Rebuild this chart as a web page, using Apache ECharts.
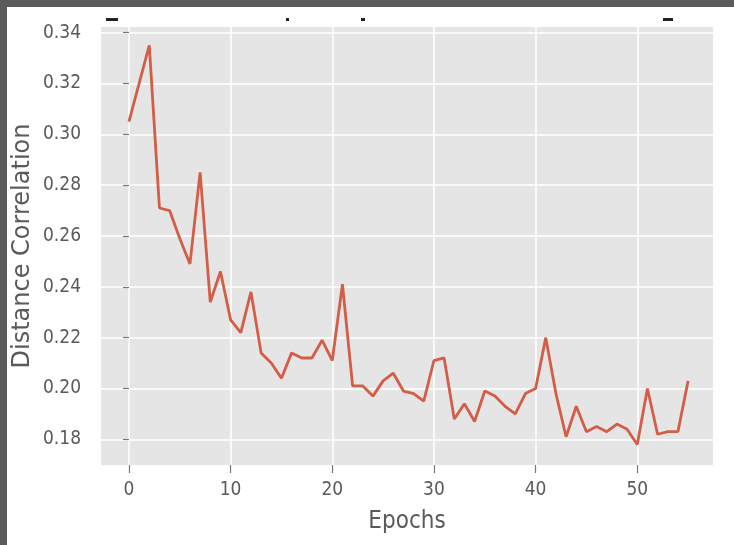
<!DOCTYPE html>
<html>
<head>
<meta charset="utf-8">
<script src="https://cdn.jsdelivr.net/npm/echarts@6/dist/echarts.min.js"></script>
<style>
html,body{margin:0;padding:0;background:#fff;}
#chart{width:734px;height:545px;}
</style>
</head>
<body>
<div id="chart"></div>
<script>
var epochs = [0,1,2,3,4,5,6,7,8,9,10,11,12,13,14,15,16,17,18,19,20,21,22,23,24,25,26,27,28,29,30,31,32,33,34,35,36,37,38,39,40,41,42,43,44,45,46,47,48,49,50,51,52,53,54,55];
var distCorr = [0.305,0.320,0.335,0.271,0.270,0.259,0.249,0.285,0.234,0.246,
                0.227,0.222,0.238,0.214,0.210,0.204,0.214,0.212,0.212,0.219,
                0.211,0.241,0.201,0.201,0.197,0.203,0.206,0.199,0.198,0.195,
                0.211,0.212,0.188,0.194,0.187,0.199,0.197,0.193,0.190,0.198,
                0.200,0.220,0.198,0.181,0.193,0.183,0.185,0.183,0.186,0.184,
                0.178,0.200,0.182,0.183,0.183,0.203];
var xTicks = [0,10,20,30,40,50];
var yTicks = [0.18,0.20,0.22,0.24,0.26,0.28,0.30,0.32,0.34];
var xName = 'Epochs';
var yName = 'Distance Correlation';

var chart = echarts.init(document.getElementById('chart'), null, {renderer:'canvas'});
var pairs = epochs.map(function(e,i){return [e, distCorr[i]];});
var tickFont = "'DejaVu Sans Condensed','Liberation Sans Narrow','DejaVu Sans',sans-serif";
chart.setOption({
  backgroundColor:'#ffffff',
  animation:false,
  grid:{left:101,right:21,top:27,bottom:80,show:true,backgroundColor:'#e5e5e5',borderWidth:0},
  xAxis:{
    type:'value', min:-2.75, max:57.45,
    name:xName, nameLocation:'middle', nameGap:45, nameMoveOverlap:false,
    nameTextStyle:{fontFamily:tickFont,fontSize:24,color:'#5a5a5a'},
    axisLine:{show:false},
    axisTick:{show:true,length:8,lineStyle:{color:'#777',width:1.2},customValues:xTicks},
    axisLabel:{margin:16,fontFamily:tickFont,fontSize:19,color:'#5a5a5a',customValues:xTicks},
    splitLine:{show:true,lineStyle:{color:'#ffffff',width:1.5}}
  },
  yAxis:{
    type:'value', min:0.1699, max:0.3422,
    name:yName, nameLocation:'middle', nameGap:66, nameRotate:90, nameMoveOverlap:false,
    nameTextStyle:{fontFamily:"'DejaVu Sans',sans-serif",fontSize:24,color:'#5a5a5a'},
    axisLine:{show:false},
    axisTick:{show:true,length:6,lineStyle:{color:'#777',width:1.2},customValues:yTicks},
    axisLabel:{margin:20,fontFamily:tickFont,fontSize:19,color:'#5a5a5a',customValues:yTicks,
      formatter:function(v){return v.toFixed(2);}},
    splitLine:{show:true,lineStyle:{color:'#ffffff',width:1.5}}
  },
  series:[{
    type:'line', data:pairs, showSymbol:false, symbol:'none',
    lineStyle:{color:'#d35d47',width:2.8},
    z:3
  }],
  graphic:[
    {type:'rect',shape:{x:0,y:0,width:734,height:7},style:{fill:'#5b5b5b'},silent:true},
    {type:'rect',shape:{x:0,y:0,width:7,height:545},style:{fill:'#5b5b5b'},silent:true},
    {type:'rect',shape:{x:106,y:18,width:12,height:3},style:{fill:'#222'},silent:true},
    {type:'rect',shape:{x:286,y:18,width:3,height:3},style:{fill:'#222'},silent:true},
    {type:'rect',shape:{x:361,y:18,width:4,height:3},style:{fill:'#222'},silent:true},
    {type:'rect',shape:{x:663,y:18,width:10,height:3},style:{fill:'#222'},silent:true}
  ]
});
</script>
</body>
</html>
